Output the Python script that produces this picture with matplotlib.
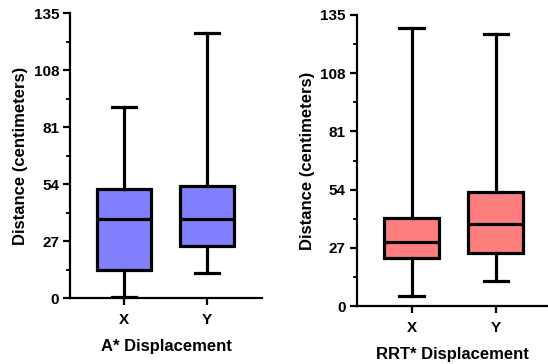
import matplotlib.pyplot as plt
from matplotlib.ticker import MultipleLocator

plt.rcParams['font.family'] = ['Liberation Sans', 'DejaVu Sans']
plt.rcParams['font.weight'] = 'bold'

categories = ['X', 'Y']

# five-number summaries: min, q1, median, q3, max
astar_min = [0.3, 11.7]
astar_q1 = [13.3, 24.6]
astar_med = [37.7, 37.7]
astar_q3 = [51.8, 53.1]
astar_max = [90.6, 125.7]

rrt_min = [4.8, 11.7]
rrt_q1 = [22.4, 24.4]
rrt_med = [29.8, 37.9]
rrt_q3 = [40.7, 53.0]
rrt_max = [128.9, 126.0]

y_ticks = [0, 27, 54, 81, 108, 135]


def make_stats(mins, q1s, meds, q3s, maxs):
    stats = []
    for lab, lo, q1, med, q3, hi in zip(categories, mins, q1s, meds, q3s, maxs):
        stats.append({'label': lab, 'whislo': lo, 'q1': q1, 'med': med,
                      'q3': q3, 'whishi': hi, 'fliers': []})
    return stats


def draw_panel(ax, stats, color, xlabel, xlim):
    lw = 2.3
    ax.bxp(stats, positions=[1, 2], widths=0.65, capwidths=0.29,
           showfliers=False, patch_artist=True,
           boxprops=dict(facecolor=color, edgecolor='black', linewidth=lw),
           medianprops=dict(color='black', linewidth=lw),
           whiskerprops=dict(color='black', linewidth=lw),
           capprops=dict(color='black', linewidth=lw))
    ax.set_ylim(0, 135)
    ax.set_xlim(*xlim)
    ax.set_yticks(y_ticks)
    ax.yaxis.set_minor_locator(MultipleLocator(13.5))
    ax.set_xticks([1, 2])
    ax.set_xticklabels(categories)
    ax.spines['top'].set_visible(False)
    ax.spines['right'].set_visible(False)
    for s in ('left', 'bottom'):
        ax.spines[s].set_linewidth(1.6)
    ax.tick_params(axis='both', which='major', width=1.6, length=5,
                   labelsize=11, pad=3)
    ax.tick_params(axis='x', which='major', pad=6)
    ax.tick_params(axis='y', which='minor', width=1.3, length=3)
    ax.tick_params(axis='x', which='minor', bottom=False)
    ax.set_ylabel('Distance (centimeters)', fontsize=12, fontweight='bold',
                  labelpad=4)
    ax.set_xlabel(xlabel, fontsize=12, fontweight='bold', labelpad=8)


fig = plt.figure(figsize=(5.48, 3.64), dpi=100)
ax1 = fig.add_axes([0.128, 0.181, 0.350, 0.783])
ax2 = fig.add_axes([0.651, 0.159, 0.349, 0.800])

draw_panel(ax1, make_stats(astar_min, astar_q1, astar_med, astar_q3, astar_max),
           '#8080ff', 'A* Displacement', (0.35, 2.66))
draw_panel(ax2, make_stats(rrt_min, rrt_q1, rrt_med, rrt_q3, rrt_max),
           '#ff7f7f', 'RRT* Displacement', (0.35, 2.62))

fig.savefig('out.png', dpi=100)
